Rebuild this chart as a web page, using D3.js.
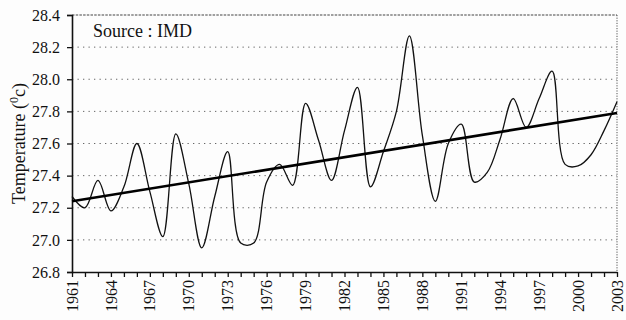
<!DOCTYPE html>
<html>
<head>
<meta charset="utf-8">
<script src="https://cdn.jsdelivr.net/npm/d3@7"></script>
<style>
  html, body { margin: 0; padding: 0; background: #fdfdfd; }
  svg { display: block; }
  text { font-family: "Liberation Serif", "Times New Roman", serif; fill: #111; }
</style>
</head>
<body>
<svg id="chart" width="626" height="320"></svg>
<script>
// Annual mean temperature (°C), 1961–2003
const years = d3.range(1961, 2004);
const temps = [
  27.27, 27.20, 27.37, 27.18, 27.33, 27.60, 27.30, 27.02, 27.66, 27.35,
  26.95, 27.27, 27.55, 26.98, 26.98, 27.36, 27.47, 27.34, 27.85, 27.62,
  27.37, 27.68, 27.95, 27.33, 27.55, 27.80, 28.27, 27.65, 27.24, 27.60,
  27.72, 27.36, 27.42, 27.63, 27.88, 27.70, 27.88, 28.05, 27.47, 27.46,
  27.53, 27.68, 27.86
];
// Linear trend end points
const trendYears = [1961, 2003];
const trendTemps = [27.24, 27.79];

const yTicks = [26.8, 27.0, 27.2, 27.4, 27.6, 27.8, 28.0, 28.2, 28.4];
const xLabelYears = d3.range(1961, 2004, 3);
const sourceNote = "Source : IMD";

const svg = d3.select("#chart");
const margin = { left: 72, right: 9, top: 15, bottom: 48 };
const W = 626, H = 320;

const x = d3.scaleLinear().domain([1961, 2003]).range([margin.left, W - margin.right]);
const y = d3.scaleLinear().domain([26.8, 28.4]).range([H - margin.bottom, margin.top]);

// Dotted horizontal grid
svg.append("g")
  .selectAll("line")
  .data(yTicks.slice(1, -1))
  .join("line")
  .attr("x1", x(1961)).attr("x2", x(2003))
  .attr("y1", d => y(d)).attr("y2", d => y(d))
  .attr("stroke", "#666")
  .attr("stroke-width", 1)
  .attr("stroke-dasharray", "1.3,4.2");

// Top and right frame (dashed)
svg.append("line")
  .attr("x1", x(1961)).attr("x2", x(2003))
  .attr("y1", y(28.4)).attr("y2", y(28.4))
  .attr("stroke", "#444").attr("stroke-width", 1.1)
  .attr("stroke-dasharray", "2.5,1.2");
svg.append("line")
  .attr("x1", x(2003)).attr("x2", x(2003))
  .attr("y1", y(28.4)).attr("y2", y(26.8))
  .attr("stroke", "#555").attr("stroke-width", 1)
  .attr("stroke-dasharray", "1.2,1.4");

// Axes
const yAxis = d3.axisLeft(y).tickValues(yTicks).tickFormat(d3.format(".1f")).tickSize(5).tickPadding(7);
const gy = svg.append("g").attr("transform", `translate(${x(1961)},0)`).call(yAxis);
gy.select(".domain").attr("stroke", "#111").attr("stroke-width", 1.6);
gy.selectAll(".tick line").attr("stroke", "#111").attr("stroke-width", 1.3);
gy.selectAll("text").style("font-size", "16px").attr("fill", "#111");

const xAxis = d3.axisBottom(x).tickValues(years).tickFormat("").tickSize(5).tickSizeOuter(0);
const gx = svg.append("g").attr("transform", `translate(0,${y(26.8)})`).call(xAxis);
gx.select(".domain").attr("stroke", "#111").attr("stroke-width", 1.6);
gx.selectAll(".tick line").attr("stroke", "#111").attr("stroke-width", 1.3);

// Rotated year labels
svg.append("g")
  .selectAll("text")
  .data(xLabelYears)
  .join("text")
  .attr("transform", d => `translate(${x(d)},${y(26.8) + 8}) rotate(-90)`)
  .attr("text-anchor", "end")
  .attr("dy", "0.35em")
  .style("font-size", "16px")
  .text(d => d);

// Y-axis title
const title = svg.append("text")
  .attr("transform", `translate(25,${(y(26.8) + y(28.4)) / 2}) rotate(-90)`)
  .attr("text-anchor", "middle")
  .style("font-size", "18px");
title.append("tspan").text("Temperature (");
title.append("tspan").attr("baseline-shift", "super").style("font-size", "12px").text("0");
title.append("tspan").text("c)");

// Source note
svg.append("text")
  .attr("x", 93).attr("y", 37)
  .style("font-size", "18px")
  .text(sourceNote);

// Annual series
const line = d3.line()
  .x((d, i) => x(years[i]))
  .y(d => y(d))
  .curve(d3.curveCatmullRom.alpha(0.5));
svg.append("path")
  .datum(temps)
  .attr("d", line)
  .attr("fill", "none")
  .attr("stroke", "#111")
  .attr("stroke-width", 1.3);

// Trend line
svg.append("path")
  .datum(trendTemps)
  .attr("d", d3.line().x((d, i) => x(trendYears[i])).y(d => y(d)))
  .attr("fill", "none")
  .attr("stroke", "#000")
  .attr("stroke-width", 2.6);
</script>
</body>
</html>
